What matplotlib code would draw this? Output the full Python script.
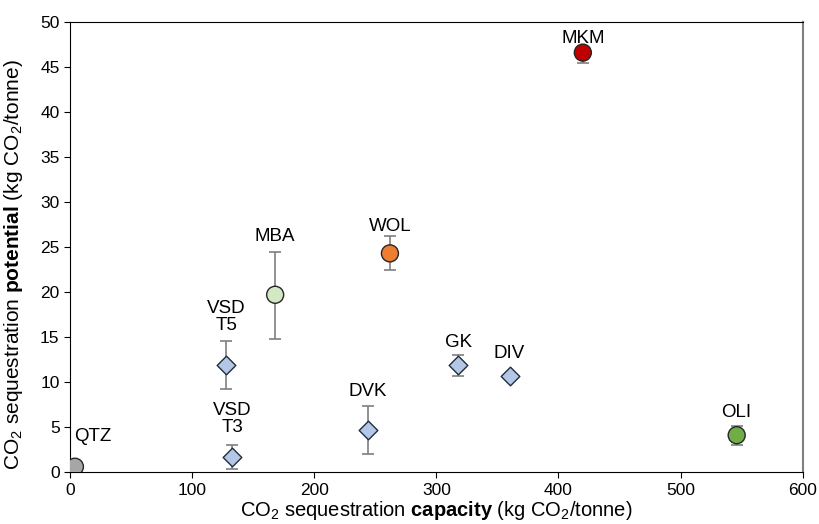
import matplotlib
matplotlib.use("Agg")
import matplotlib.pyplot as plt

plt.rcParams['font.family'] = ['Liberation Sans', 'DejaVu Sans']
plt.rcParams['mathtext.fontset'] = 'custom'
plt.rcParams['mathtext.rm'] = 'Liberation Sans'
plt.rcParams['mathtext.bf'] = 'Liberation Sans:bold'

# minerals plotted as circles
circ_names = ['QTZ', 'MBA', 'WOL', 'MKM', 'OLI']
circ_x = [4, 168, 262, 420, 546]
circ_y = [0.6, 19.7, 24.3, 46.6, 4.1]
circ_lo = [0.0, 4.9, 1.9, 1.1, 1.1]
circ_hi = [0.0, 4.7, 1.9, 0.0, 1.0]
circ_col = ['#a6a6a6', '#d3e8c3', '#ed7d31', '#c00000', '#70ad47']

# rocks plotted as diamonds
dia_names = ['VSD\nT5', 'VSD\nT3', 'DVK', 'GK', 'DIV']
dia_x = [128, 133, 244, 318, 360]
dia_y = [11.9, 1.7, 4.7, 11.9, 10.7]
dia_lo = [2.7, 1.4, 2.7, 1.2, 0.0]
dia_hi = [2.7, 1.3, 2.7, 1.1, 0.0]

# label offsets (pixels, label centre relative to point)
circ_off = [(18, 30), (0, 58), (0, 27), (0, 14), (0, 23)]
dia_off = [(0, 48), (0, 38), (0, 38), (0, 22), (0, 22)]

fig = plt.figure(figsize=(8.19, 5.24), dpi=100)
ax = fig.add_axes([0.0855, 0.099, 0.8945, 0.859])

ax.errorbar(dia_x, dia_y, yerr=[dia_lo, dia_hi], fmt='none', ecolor='#7f7f7f',
            elinewidth=1.2, capsize=4, capthick=1.2, zorder=2)
ax.scatter(dia_x, dia_y, marker='D', s=90, c='#b4c7e7', edgecolors='#1f2d3d',
           linewidths=1, zorder=3)

ax.errorbar(circ_x, circ_y, yerr=[circ_lo, circ_hi], fmt='none', ecolor='#7f7f7f',
            elinewidth=1.2, capsize=4, capthick=1.2, zorder=2)
ax.scatter(circ_x, circ_y, marker='o', s=150, c=circ_col, edgecolors='#262626',
           linewidths=1, zorder=3)

for n, x, y, o in zip(circ_names + dia_names, circ_x + dia_x, circ_y + dia_y, circ_off + dia_off):
    ax.annotate(n, (x, y), xytext=o, textcoords='offset pixels', ha='center',
                va='center', fontsize=13.5, linespacing=1.0)

ax.set_xlim(0, 600)
ax.set_ylim(0, 50)
ax.set_xticks(range(0, 601, 100))
ax.set_yticks(range(0, 51, 5))
ax.tick_params(labelsize=12.5, direction='out', length=4)
ax.spines['right'].set_color('#7f7f7f')
ax.spines['right'].set_linewidth(1.5)

ax.set_xlabel(r'CO$_2$ sequestration $\mathbf{capacity}$ (kg CO$_2$/tonne)', fontsize=14.5, labelpad=1)
ax.set_ylabel(r'CO$_2$ sequestration $\mathbf{potential}$ (kg CO$_2$/tonne)', fontsize=15)
ax.yaxis.set_label_coords(-0.062, 0.462)

fig.savefig('out.png', dpi=100)
